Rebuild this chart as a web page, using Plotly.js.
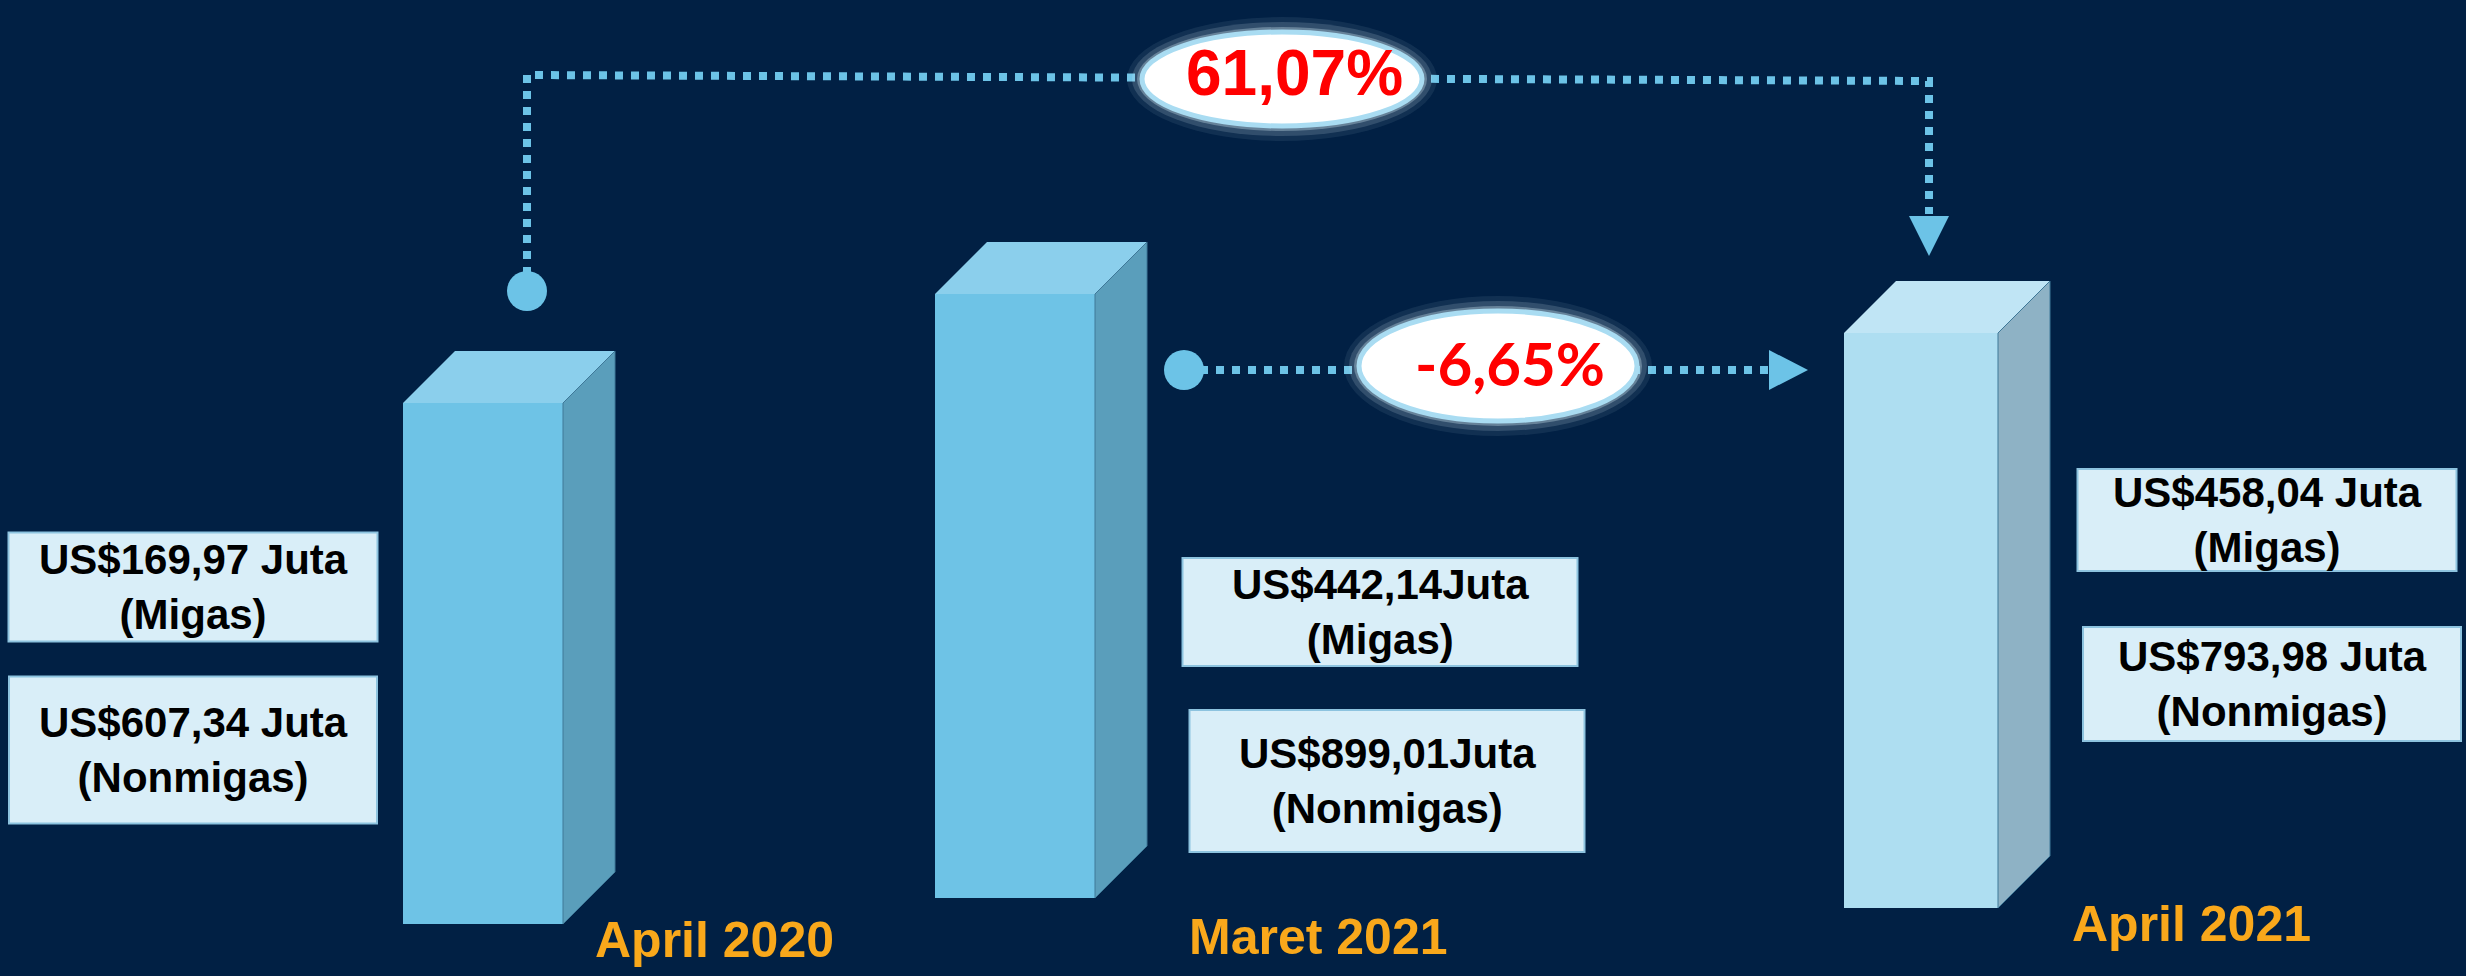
<!DOCTYPE html>
<html>
<head>
<meta charset="utf-8">
<script src="https://cdn.plot.ly/plotly-3.0.1.min.js"></script>
<style>
  html, body { margin: 0; padding: 0; background: #012044; }
  #chart { width: 2466px; height: 976px; }
</style>
</head>
<body>
<div id="chart"></div>
<script>
// values
var categories = ['April 2020', 'Maret 2021', 'April 2021'];
var migas = [169.97, 442.14, 458.04];       // US$ juta
var nonmigas = [607.34, 899.01, 793.98];    // US$ juta
var jutaGap = [' ', '', ' '];               // the middle boxes have no space before "Juta"
var barHeight = [521, 604, 575];            // drawn height of each column (not to scale in the source)
var changePct = [61.07, -6.65];             // Apr20 -> Apr21, Mar21 -> Apr21

// geometry of the slide (picture pixels, measured from the top)
var W = 2466, H = 976;
function up(p) { return H - p; }

var barX = [483, 1015, 1921];
var barW = [160, 160, 154];
var barBottom = [924, 898, 908];
var depth = 52;
var frontCol = ['#6EC3E6', '#6EC3E6', '#AEDEF1'];
var topCol = ['#8BCFEC', '#8BCFEC', '#C0E5F5'];
var sideCol = ['#5A9EBB', '#5A9EBB', '#8EB2C5'];
var catPos = [[593, 940], [1187, 937], [2070, 924]];

// label boxes: [cx, cy, w, h] for migas and nonmigas
var boxMigas = [[193, 587, 369, 109], [1380, 612, 395, 108], [2267, 520, 379, 102]];
var boxNon = [[193, 750, 368, 147], [1387, 781, 395, 142], [2272, 684, 378, 114]];

var dotBlue = '#6CC3E7';

function fmt(v) { return v.toFixed(2).replace('.', ','); }
function pct(v) { return v.toFixed(2).replace('.', ',') + '%'; }

var data = [];

// front faces
data.push({
  type: 'bar',
  x: barX,
  y: barHeight,
  base: barBottom.map(up),
  width: barW,
  marker: { color: frontCol, line: { width: 0 } },
  hoverinfo: 'skip'
});

// top + side faces for the 3d look
for (var i = 0; i < barX.length; i++) {
  var xl = barX[i] - barW[i] / 2, xr = barX[i] + barW[i] / 2;
  var yb = up(barBottom[i]), yt = yb + barHeight[i];
  data.push({
    type: 'scatter', mode: 'lines', fill: 'toself', fillcolor: topCol[i],
    x: [xl, xl + depth, xr + depth, xr, xl],
    y: [yt, yt + depth, yt + depth, yt, yt],
    line: { width: 0 }, hoverinfo: 'skip'
  });
  data.push({
    type: 'scatter', mode: 'lines', fill: 'toself', fillcolor: sideCol[i],
    x: [xr, xr + depth, xr + depth, xr, xr],
    y: [yt, yt + depth, yb + depth, yb, yt],
    line: { width: 1, color: '#3E7898' }, hoverinfo: 'skip'
  });
}

// dotted connectors
var dotLine = { color: dotBlue, width: 8, dash: '8px,8px' };
data.push({
  type: 'scatter', mode: 'lines',
  x: [527, 527, 1929, 1929], y: [up(291), up(75), up(81), up(214)],
  line: dotLine, hoverinfo: 'skip'
});
data.push({
  type: 'scatter', mode: 'lines',
  x: [1184, 1770], y: [up(370), up(370)],
  line: dotLine, hoverinfo: 'skip'
});
// arrow heads
data.push({
  type: 'scatter', mode: 'lines', fill: 'toself', fillcolor: dotBlue,
  x: [1909, 1949, 1929, 1909], y: [up(216), up(216), up(256), up(216)],
  line: { width: 0 }, hoverinfo: 'skip'
});
data.push({
  type: 'scatter', mode: 'lines', fill: 'toself', fillcolor: dotBlue,
  x: [1769, 1808, 1769, 1769], y: [up(350), up(370), up(390), up(350)],
  line: { width: 0 }, hoverinfo: 'skip'
});
// start dots
data.push({
  type: 'scatter', mode: 'markers',
  x: [527, 1184], y: [up(291), up(370)],
  marker: { size: 40, color: dotBlue, line: { width: 0 } }, hoverinfo: 'skip'
});

var shapes = [];
var annotations = [];

// white ovals with a soft glow
function oval(cx, cy, rx, ry) {
  [[15, 0.08], [10, 0.16], [5, 0.32]].forEach(function (g) {
    shapes.push({
      type: 'circle', xref: 'x', yref: 'y', layer: 'above',
      x0: cx - rx - g[0], x1: cx + rx + g[0], y0: up(cy) - ry - g[0], y1: up(cy) + ry + g[0],
      fillcolor: 'rgba(215,238,250,' + g[1] + ')', line: { width: 0 }
    });
  });
  shapes.push({
    type: 'circle', xref: 'x', yref: 'y', layer: 'above',
    x0: cx - rx, x1: cx + rx, y0: up(cy) - ry, y1: up(cy) + ry,
    fillcolor: '#FFFFFF', line: { color: '#A9DCF2', width: 5 }
  });
}
oval(1282, 79, 140, 47);
oval(1498, 366, 139, 55);

annotations.push({
  x: 1294, y: up(73), xref: 'x', yref: 'y', showarrow: false,
  text: '<b>' + pct(changePct[0]) + '</b>',
  font: { family: '"Liberation Sans", Arial, sans-serif', size: 64, color: '#FF0000' }
});
annotations.push({
  x: 1510, y: up(363), xref: 'x', yref: 'y', showarrow: false,
  text: '<b>' + pct(changePct[1]) + '</b>',
  font: { family: 'Lato, sans-serif', size: 60, color: '#FF0000' }
});

// value boxes
function box(b, txt) {
  shapes.push({
    type: 'rect', xref: 'x', yref: 'y', layer: 'above',
    x0: b[0] - b[2] / 2, x1: b[0] + b[2] / 2, y0: up(b[1]) - b[3] / 2, y1: up(b[1]) + b[3] / 2,
    fillcolor: '#D9EEF8', line: { color: '#8DC3DF', width: 2 }
  });
  annotations.push({
    x: b[0], y: up(b[1]), xref: 'x', yref: 'y', showarrow: false,
    text: txt,
    font: { family: '"Liberation Sans", Arial, sans-serif', size: 42, color: '#000000' }
  });
}
for (var j = 0; j < categories.length; j++) {
  box(boxMigas[j], '<b>US$' + fmt(migas[j]) + jutaGap[j] + 'Juta<br>(Migas)</b>');
  box(boxNon[j], '<b>US$' + fmt(nonmigas[j]) + jutaGap[j] + 'Juta<br>(Nonmigas)</b>');
  annotations.push({
    x: catPos[j][0], y: up(catPos[j][1]), xref: 'x', yref: 'y', showarrow: false,
    xanchor: 'left', yanchor: 'middle',
    text: '<b>' + categories[j] + '</b>',
    font: { family: '"Liberation Sans", Arial, sans-serif', size: 50, color: '#F9A81B' }
  });
}

var layout = {
  width: W,
  height: H,
  margin: { l: 0, r: 0, t: 0, b: 0 },
  paper_bgcolor: '#012044',
  plot_bgcolor: '#012044',
  showlegend: false,
  xaxis: { range: [0, W], visible: false, fixedrange: true },
  yaxis: { range: [0, H], visible: false, fixedrange: true },
  shapes: shapes,
  annotations: annotations
};

Plotly.newPlot('chart', data, layout, { displayModeBar: false, staticPlot: true });
</script>
</body>
</html>
